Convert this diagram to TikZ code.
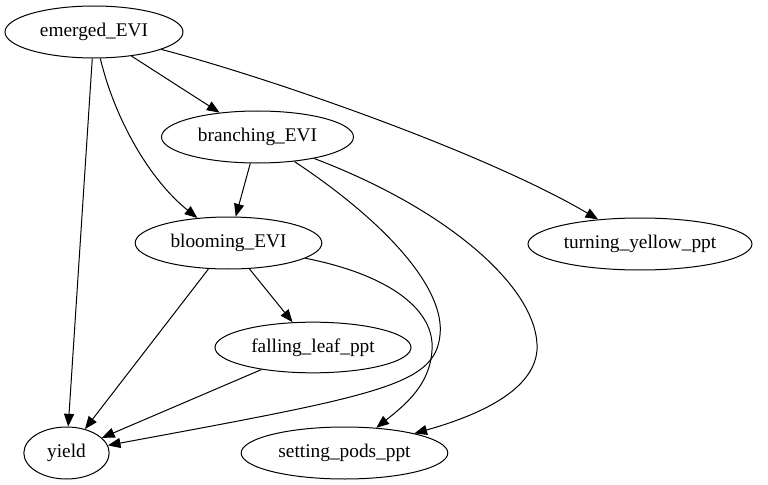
\documentclass[tikz,border=0pt]{standalone}
\usepackage{fontspec}
\setmainfont{Liberation Serif}
\usetikzlibrary{shapes.geometric,arrows.meta}
\begin{document}
\begin{tikzpicture}[x=0.75pt,y=-0.75pt,
  vnode/.style={draw,ellipse,inner sep=0pt,line width=0.75pt,font=\fontsize{14.5pt}{16pt}\selectfont,minimum height=39pt},
  edge/.style={line width=0.75pt,-{Triangle[length=9.5pt,width=7.5pt]}}]
\useasboundingbox (0,0) rectangle (768,485);
\node[vnode,minimum width=133.5pt] (em) at (94,32) {emerged\_EVI};
\node[vnode,minimum width=144pt] (br) at (257.5,137) {branching\_EVI};
\node[vnode,minimum width=140pt] (bl) at (228.5,243) {blooming\_EVI};
\node[vnode,minimum width=168pt] (ty) at (640,244) {turning\_yellow\_ppt};
\node[vnode,minimum width=147pt,minimum height=38pt] (fl) at (313,347.5) {falling\_leaf\_ppt};
\node[vnode,minimum width=64pt] (yi) at (66.5,453) {yield};
\node[vnode,minimum width=155pt] (sp) at (344.5,453) {setting\_pods\_ppt};
\draw[edge] (em) -- (yi);
\draw[edge] (em) -- (br);
\draw[edge] (em) .. controls (115,120) and (150,180) .. (bl);
\draw[edge] (em) .. controls (260,75) and (480,150) .. (ty);
\draw[edge] (br) -- (bl);
\draw[edge] (br) .. controls (390,225) and (445,290) .. (440,335) .. controls (435,385) and (380,395) .. (yi);
\draw[edge] (br) .. controls (450,210) and (540,290) .. (537,350) .. controls (534,390) and (480,415) .. (sp);
\draw[edge] (bl) -- (yi);
\draw[edge] (bl) -- (fl);
\draw[edge] (bl) .. controls (390,275) and (435,310) .. (432,350) .. controls (430,385) and (405,405) .. (sp);
\draw[edge] (fl) -- (yi);
\end{tikzpicture}
\end{document}
